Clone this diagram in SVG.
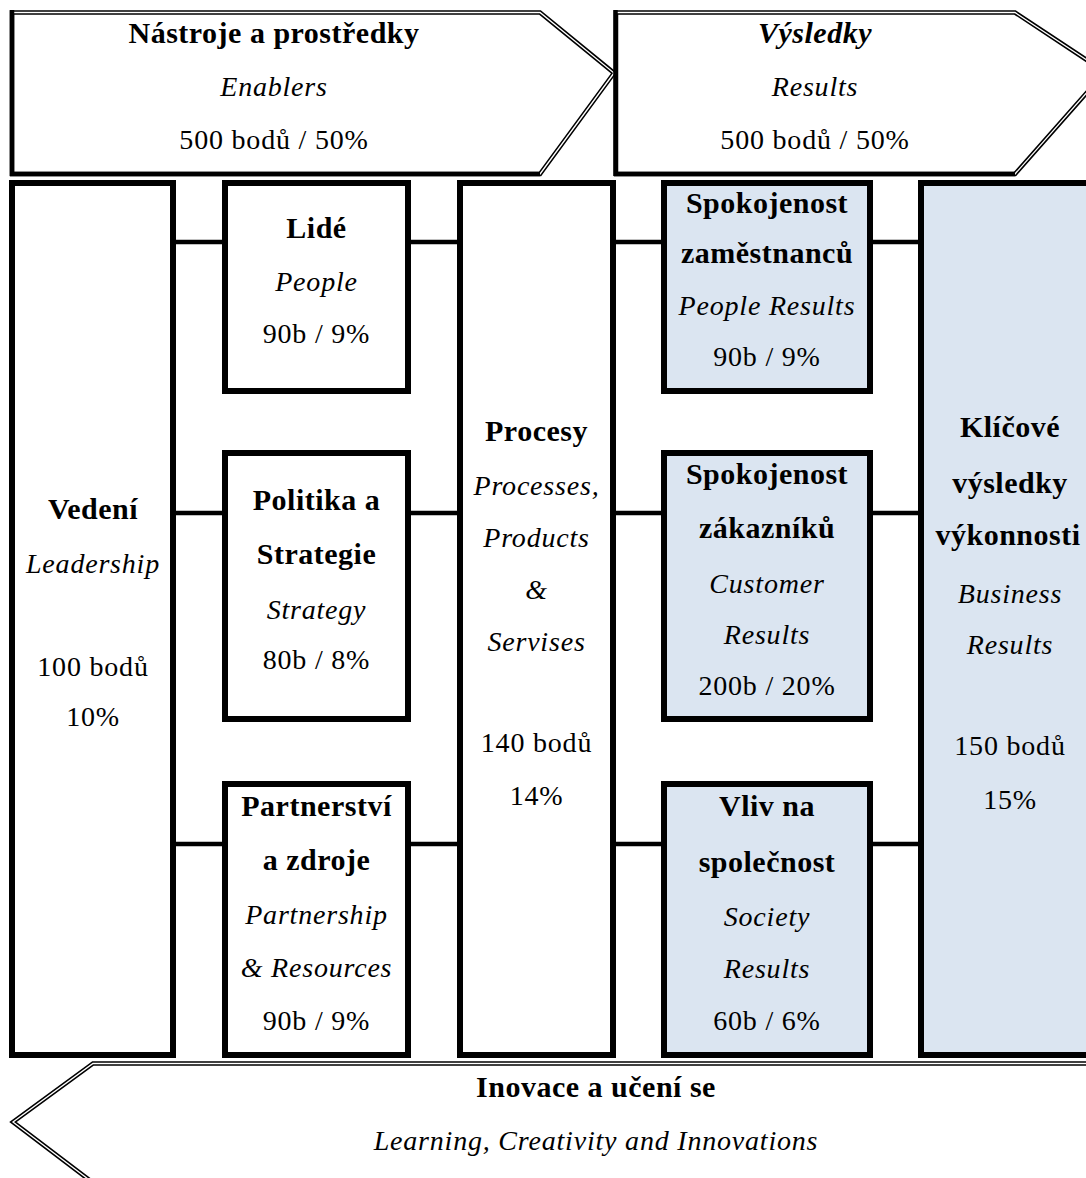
<svg xmlns="http://www.w3.org/2000/svg" width="1086" height="1178" viewBox="0 0 1086 1178">
  <style>
    text { font-family: "Liberation Serif", "Times New Roman", Times, serif; font-size: 28px; fill: #000; text-anchor: middle; letter-spacing: 0.8px; }
    .b { font-weight: bold; font-size: 30px; letter-spacing: 0.5px; }
    .i { font-style: italic; }
    .box { fill: #fff; stroke: #000; stroke-width: 6; }
    .res { fill: #DBE5F1; stroke: #000; stroke-width: 6; }
    .dblk { fill: none; stroke: #000; stroke-width: 4.5; stroke-linejoin: miter; }
    .dwht { fill: none; stroke: #fff; stroke-width: 1.3; stroke-linejoin: miter; }
    .solid { stroke: #000; stroke-width: 4.5; }
    .conn { stroke: #000; stroke-width: 4.5; }
  </style>

  <rect x="0" y="0" width="1086" height="1178" fill="#fff"/>

  <!-- Top arrows -->
  <g id="enablers">
    <path class="dblk" d="M12,12.5 L540,12.5 L614,73 L540,174 L12,174 Z"/>
    <path class="dwht" d="M12,12.5 L540,12.5 L614,73 L540,174 L12,174 Z"/>
    <line class="solid" x1="12" y1="10" x2="12" y2="176"/>
    <line class="solid" x1="10" y1="174" x2="540" y2="174"/>
    <text class="b" x="274" y="43">Nástroje a prostředky</text>
    <text class="i" x="274" y="96">Enablers</text>
    <text x="274" y="149">500 bodů / 50%</text>
  </g>

  <g id="results">
    <path class="dblk" d="M616,12.5 L1015,12.5 L1105,72 L1015,174 L616,174 Z"/>
    <path class="dwht" d="M616,12.5 L1015,12.5 L1105,72 L1015,174 L616,174 Z"/>
    <line class="solid" x1="615.5" y1="10" x2="615.5" y2="176"/>
    <line class="solid" x1="614" y1="174" x2="1015" y2="174"/>
    <text class="b i" x="815" y="43">Výsledky</text>
    <text class="i" x="815" y="96">Results</text>
    <text x="815" y="149">500 bodů / 50%</text>
  </g>

  <!-- Connectors -->
  <g id="connectors">
    <line class="conn" x1="176" y1="242" x2="222" y2="242"/>
    <line class="conn" x1="411" y1="242" x2="457" y2="242"/>
    <line class="conn" x1="616" y1="242" x2="661" y2="242"/>
    <line class="conn" x1="873" y1="242" x2="918" y2="242"/>
    <line class="conn" x1="176" y1="513" x2="222" y2="513"/>
    <line class="conn" x1="411" y1="513" x2="457" y2="513"/>
    <line class="conn" x1="616" y1="513" x2="661" y2="513"/>
    <line class="conn" x1="873" y1="513" x2="918" y2="513"/>
    <line class="conn" x1="176" y1="844" x2="222" y2="844"/>
    <line class="conn" x1="411" y1="844" x2="457" y2="844"/>
    <line class="conn" x1="616" y1="844" x2="661" y2="844"/>
    <line class="conn" x1="873" y1="844" x2="918" y2="844"/>
  </g>

  <!-- Column 1 -->
  <g id="vedeni">
    <rect class="box" x="12" y="183" width="161" height="872"/>
    <text class="b" x="93" y="519">Vedení</text>
    <text class="i" x="93" y="573">Leadership</text>
    <text x="93" y="676">100 bodů</text>
    <text x="93" y="726">10%</text>
  </g>

  <!-- Column 2 -->
  <g id="lide">
    <rect class="box" x="225" y="183" width="183" height="208"/>
    <text class="b" x="316.5" y="238">Lidé</text>
    <text class="i" x="316.5" y="291">People</text>
    <text x="316.5" y="343">90b / 9%</text>
  </g>
  <g id="politika">
    <rect class="box" x="225" y="453" width="183" height="266"/>
    <text class="b" x="316.5" y="510">Politika a</text>
    <text class="b" x="316.5" y="564">Strategie</text>
    <text class="i" x="316.5" y="619">Strategy</text>
    <text x="316.5" y="669">80b / 8%</text>
  </g>
  <g id="partnerstvi">
    <rect class="box" x="225" y="784" width="183" height="271"/>
    <text class="b" x="316.5" y="816">Partnerství</text>
    <text class="b" x="316.5" y="870">a zdroje</text>
    <text class="i" x="316.5" y="924">Partnership</text>
    <text class="i" x="316.5" y="977">&amp; Resources</text>
    <text x="316.5" y="1030">90b / 9%</text>
  </g>

  <!-- Column 3 -->
  <g id="procesy">
    <rect class="box" x="460" y="183" width="153" height="872"/>
    <text class="b" x="536.5" y="441">Procesy</text>
    <text class="i" x="536.5" y="495">Processes,</text>
    <text class="i" x="536.5" y="547">Products</text>
    <text class="i" x="536.5" y="599">&amp;</text>
    <text class="i" x="536.5" y="651">Servises</text>
    <text x="536.5" y="752">140 bodů</text>
    <text x="536.5" y="805">14%</text>
  </g>

  <!-- Column 4 -->
  <g id="zamestnanci">
    <rect class="res" x="664" y="183" width="206" height="208"/>
    <text class="b" x="767" y="213">Spokojenost</text>
    <text class="b" x="767" y="263">zaměstnanců</text>
    <text class="i" x="767" y="315">People Results</text>
    <text x="767" y="366">90b / 9%</text>
  </g>
  <g id="zakaznici">
    <rect class="res" x="664" y="453" width="206" height="266"/>
    <text class="b" x="767" y="484">Spokojenost</text>
    <text class="b" x="767" y="538">zákazníků</text>
    <text class="i" x="767" y="593">Customer</text>
    <text class="i" x="767" y="644">Results</text>
    <text x="767" y="695">200b / 20%</text>
  </g>
  <g id="spolecnost">
    <rect class="res" x="664" y="784" width="206" height="271"/>
    <text class="b" x="767" y="816">Vliv na</text>
    <text class="b" x="767" y="872">společnost</text>
    <text class="i" x="767" y="926">Society</text>
    <text class="i" x="767" y="978">Results</text>
    <text x="767" y="1030">60b / 6%</text>
  </g>

  <!-- Column 5 -->
  <g id="klicove">
    <rect class="res" x="921" y="183" width="200" height="872"/>
    <text class="b" x="1010" y="437">Klíčové</text>
    <text class="b" x="1010" y="493">výsledky</text>
    <text class="b" x="1008" y="545">výkonnosti</text>
    <text class="i" x="1010" y="603">Business</text>
    <text class="i" x="1010" y="654">Results</text>
    <text x="1010" y="755">150 bodů</text>
    <text x="1010" y="809">15%</text>
  </g>

  <!-- Bottom arrow -->
  <g id="inovace">
    <path class="dblk" d="M1092,1063.5 L93,1063.5 L13,1122 L92,1182"/>
    <path class="dwht" d="M1092,1063.5 L93,1063.5 L13,1122 L92,1182"/>
    <text class="b" x="596" y="1097">Inovace a učení se</text>
    <text class="i" x="596" y="1150">Learning, Creativity and Innovations</text>
  </g>
</svg>
